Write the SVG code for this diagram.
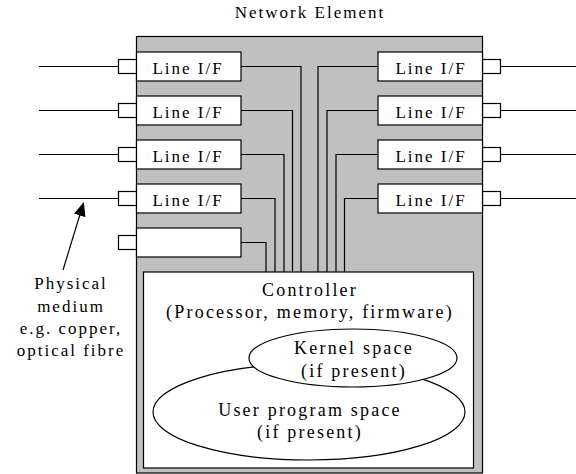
<svg xmlns="http://www.w3.org/2000/svg" width="576" height="474" viewBox="0 0 576 474">
<defs>
<style>
text{font-family:'Liberation Serif','Times New Roman',serif;font-size:17px;letter-spacing:2px;fill:#000;text-anchor:middle}
.big{font-size:18px;letter-spacing:2.2px}
.box{fill:#fff;stroke:#000;stroke-width:1.2}
.w{fill:none;stroke:#000;stroke-width:1.2}
</style>
<marker id="ah" markerWidth="14" markerHeight="12" refX="13" refY="6" orient="auto" markerUnits="userSpaceOnUse">
<path d="M0,0 L14,6 L0,12 Z" fill="#000"/>
</marker>
</defs>
<rect width="576" height="474" fill="#fff"/>
<g id="network-element">
<rect x="136.5" y="36.5" width="346" height="436.5" fill="#c0c0c0" stroke="#000" stroke-width="1.2"/>
<text x="310" y="18">Network Element</text>
</g>
<g id="connectors">
<path class="w" d="M241,66.5 H301 V272"/>
<path class="w" d="M241,110.5 H292.5 V272"/>
<path class="w" d="M241,154.5 H284 V272"/>
<path class="w" d="M241,198.5 H275 V272"/>
<path class="w" d="M241,242.5 H266 V272"/>
<path class="w" d="M378,66.5 H318 V272"/>
<path class="w" d="M378,110.5 H327 V272"/>
<path class="w" d="M378,154.5 H336 V272"/>
<path class="w" d="M378,198.5 H344.5 V272"/>
<path class="w" d="M39,66.5 H118.5 M39,110.5 H118.5 M39,154.5 H118.5 M39,198.5 H118.5"/>
<path class="w" d="M500,66.5 H576 M500,110.5 H576 M500,154.5 H576 M500,198.5 H576"/>
<line x1="63" y1="270" x2="83.5" y2="203" stroke="#000" stroke-width="1.2" marker-end="url(#ah)"/>
</g>
<g id="line-if-l1"><rect class="box" x="118.5" y="59.5" width="18" height="14"/><rect class="box" x="136.5" y="52" width="104.5" height="29"/><text x="188" y="74">Line I/F</text></g>
<g id="line-if-l2"><rect class="box" x="118.5" y="103.5" width="18" height="14"/><rect class="box" x="136.5" y="96" width="104.5" height="29"/><text x="188" y="118">Line I/F</text></g>
<g id="line-if-l3"><rect class="box" x="118.5" y="147.5" width="18" height="14"/><rect class="box" x="136.5" y="140" width="104.5" height="29"/><text x="188" y="162">Line I/F</text></g>
<g id="line-if-l4"><rect class="box" x="118.5" y="191.5" width="18" height="14"/><rect class="box" x="136.5" y="184" width="104.5" height="29"/><text x="188" y="206">Line I/F</text></g>
<g id="blank-if"><rect class="box" x="118.5" y="235.5" width="18" height="14"/><rect class="box" x="136.5" y="228" width="104.5" height="29"/></g>
<g id="line-if-r1"><rect class="box" x="482.5" y="59.5" width="18" height="14"/><rect class="box" x="378" y="52" width="104.5" height="29"/><text x="431" y="74">Line I/F</text></g>
<g id="line-if-r2"><rect class="box" x="482.5" y="103.5" width="18" height="14"/><rect class="box" x="378" y="96" width="104.5" height="29"/><text x="431" y="118">Line I/F</text></g>
<g id="line-if-r3"><rect class="box" x="482.5" y="147.5" width="18" height="14"/><rect class="box" x="378" y="140" width="104.5" height="29"/><text x="431" y="162">Line I/F</text></g>
<g id="line-if-r4"><rect class="box" x="482.5" y="191.5" width="18" height="14"/><rect class="box" x="378" y="184" width="104.5" height="29"/><text x="431" y="206">Line I/F</text></g>
<g id="controller">
<rect class="box" x="143.5" y="272" width="330" height="196"/>
<text class="big" x="310" y="296">Controller</text>
<text class="big" x="310" y="318">(Processor, memory, firmware)</text>
</g>
<g id="user-space">
<ellipse class="box" cx="309" cy="412" rx="156" ry="48"/>
<text class="big" x="310" y="416">User program space</text>
<text class="big" x="310" y="438">(if present)</text>
</g>
<g id="kernel-space">
<ellipse class="box" cx="353" cy="358" rx="104" ry="29"/>
<text class="big" x="354" y="354">Kernel space</text>
<text class="big" x="354" y="377">(if present)</text>
</g>
<g id="physical-medium">
<text x="71" y="289">Physical</text>
<text x="71" y="312">medium</text>
<text x="71" y="334">e.g. copper,</text>
<text x="71" y="356">optical fibre</text>
</g>
</svg>
